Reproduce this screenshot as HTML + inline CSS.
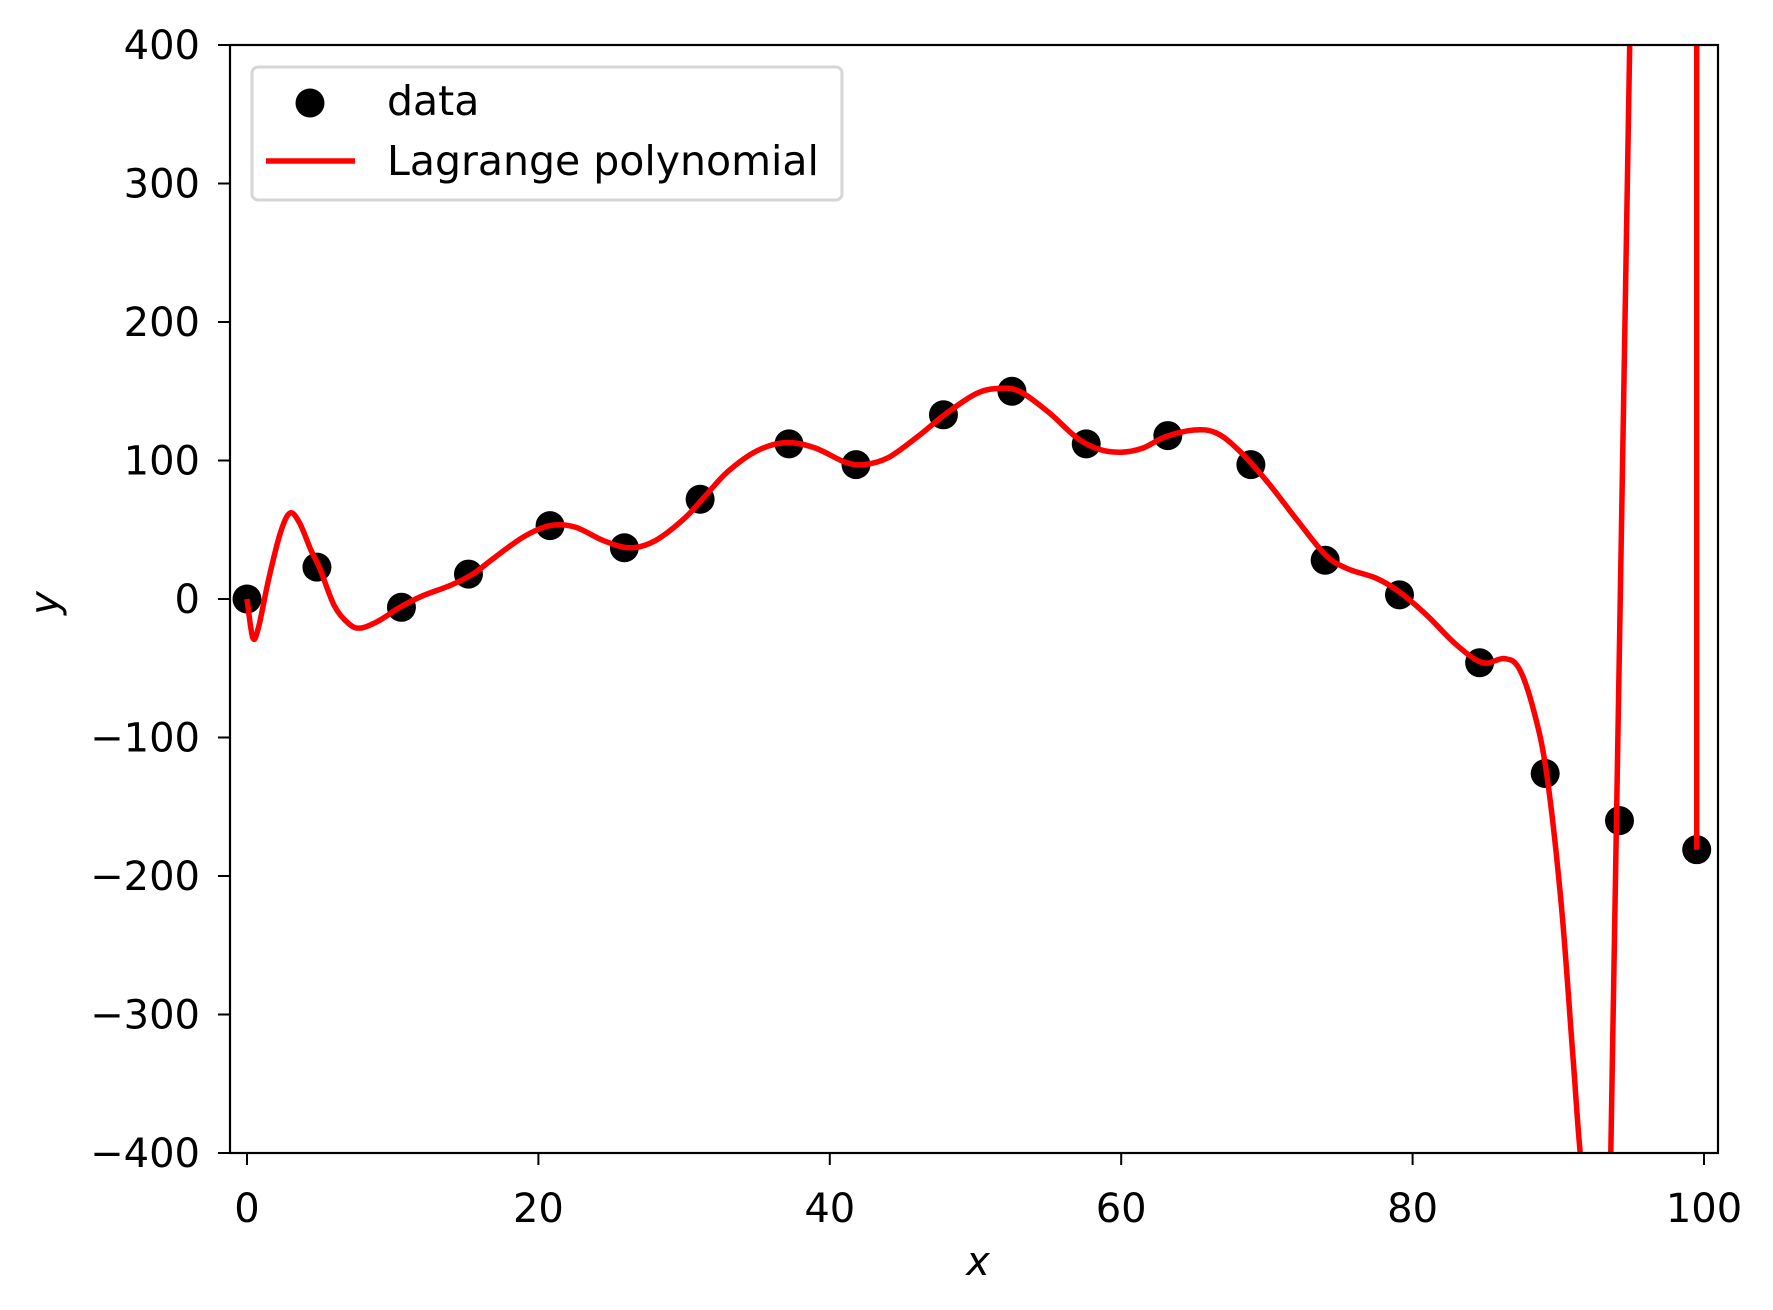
<!DOCTYPE html>
<html><head><meta charset="utf-8">
<style>
html,body{margin:0;padding:0;background:#fff;}
svg{display:block;font-family:"DejaVu Sans","Liberation Sans",sans-serif;}
</style></head>
<body>
<svg id="chart" width="1773" height="1310" viewBox="0 0 1773 1310" xmlns="http://www.w3.org/2000/svg">
<defs><clipPath id="plotclip"><rect x="230" y="45" width="1488" height="1108"/></clipPath></defs>
<rect x="0" y="0" width="1773" height="1310" fill="#fff"/>
<g id="curve-layer" clip-path="url(#plotclip)"></g>
<g id="points-layer" clip-path="url(#plotclip)"></g>
<rect x="230" y="45" width="1488" height="1108" fill="none" stroke="#000" stroke-width="2.2"/>
<g id="ticks"></g>
<text x="978" y="1275" font-size="40" font-style="italic" text-anchor="middle">x</text>
<text x="58" y="603" font-size="40" font-style="italic" text-anchor="middle" transform="rotate(-90 58 603)">y</text>
<g>
  <rect x="252" y="67" width="590" height="133" rx="6" fill="#fff" fill-opacity="0.8" stroke="#d6d6d6" stroke-width="3"/>
  <circle cx="310" cy="103" r="14.5" fill="#000"/>
  <text x="387" y="115" font-size="41">data</text>
  <line x1="266" y1="161" x2="355" y2="161" stroke="#f00" stroke-width="5.5"/>
  <text x="387" y="175" font-size="41">Lagrange polynomial</text>
</g>
</svg>
<script>
const dataX = [0,4.8,10.6,15.2,20.8,25.9,31.1,37.2,41.8,47.8,52.5,57.6,63.2,68.9,74.0,79.1,84.6,89.1,94.2,99.5];
const dataY = [0,23,-6,18,53,37,72,112,97,133,150,112,118,97,28,3,-46,-126,-160,-181];
const curveX = [0,0.4,0.8,1.5,2.3,2.95,3.6,4.4,5,6,7,7.8,9,10.5,12,14,15.5,17,19,20.8,22.5,24.5,26.3,28,30,31.5,33,35,37,39,41,42.3,44,46,48,50,51.5,53,55,57,58.5,60,61.5,63,65,66.5,68,70,72,74,75.5,77.5,79.1,81,83,84.8,86.3,87.3,88.3,89.2,90.2,91.0,91.6,92.5,93.0,93.6,94.9,95.5,99.5,99.5,99.5];
const curveY = [0,-28,-20,15,48,62,55,35,22,-5,-18,-21,-16,-6,2,10,18,30,45,53,52,42,37,42,58,75,92,107,113,109,99,97,102,117,134,148,152,150,135,116,108,106,109,117,122,120,108,85,58,32,22,15,5,-12,-33,-46,-43,-50,-80,-126,-220,-330,-410,-470,-460,-400,400,460,460,400,-181];
const xTicks = [0,20,40,60,80,100];
const yTicks = [-400,-300,-200,-100,0,100,200,300,400];
const yTickLabels = ["\u2212400","\u2212300","\u2212200","\u2212100","0","100","200","300","400"];

const NS = "http://www.w3.org/2000/svg";
const xs = v => 247 + v * 14.57;
const ys = v => 599 - v * 1.385;

const curveLayer = document.getElementById('curve-layer');
const P = curveX.map((x,i)=>[xs(x), ys(curveY[i])]);
let d = 'M' + P[0][0].toFixed(1) + ',' + P[0][1].toFixed(1);
for (let i=0;i<P.length-1;i++){
  const p0 = P[Math.max(0,i-1)], p1 = P[i], p2 = P[i+1], p3 = P[Math.min(P.length-1,i+2)];
  const t = 1/6;
  const c1 = [p1[0]+(p2[0]-p0[0])*t, p1[1]+(p2[1]-p0[1])*t];
  const c2 = [p2[0]-(p3[0]-p1[0])*t, p2[1]-(p3[1]-p1[1])*t];
  d += 'C'+c1[0].toFixed(1)+','+c1[1].toFixed(1)+' '+c2[0].toFixed(1)+','+c2[1].toFixed(1)+' '+p2[0].toFixed(1)+','+p2[1].toFixed(1);
}
const path = document.createElementNS(NS,'path');
path.setAttribute('d', d);
path.setAttribute('fill','none');
path.setAttribute('stroke','#f00');
path.setAttribute('stroke-width','5.5');
path.setAttribute('stroke-linejoin','round');



const pts = document.getElementById('points-layer');
for (let i=0;i<dataX.length;i++){
  const c = document.createElementNS(NS,'circle');
  c.setAttribute('cx', xs(dataX[i]));
  c.setAttribute('cy', ys(dataY[i]));
  c.setAttribute('r', 14.5);
  c.setAttribute('fill', '#000');
  
  
  pts.appendChild(c);
}
curveLayer.appendChild(path);
document.getElementById('chart').insertBefore(pts, curveLayer);

const ticks = document.getElementById('ticks');
xTicks.forEach(v => {
  const l = document.createElementNS(NS,'line');
  l.setAttribute('x1', xs(v)); l.setAttribute('x2', xs(v));
  l.setAttribute('y1', 1153); l.setAttribute('y2', 1165);
  l.setAttribute('stroke','#000'); l.setAttribute('stroke-width','2');
  
  
  ticks.appendChild(l);
  const t = document.createElementNS(NS,'text');
  t.setAttribute('x', xs(v)); t.setAttribute('y', 1222);
  t.setAttribute('font-size','40'); t.setAttribute('text-anchor','middle');
  t.textContent = String(v);
  
  
  ticks.appendChild(t);
});
yTicks.forEach((v,i) => {
  const l = document.createElementNS(NS,'line');
  l.setAttribute('x1', 218); l.setAttribute('x2', 230);
  l.setAttribute('y1', ys(v)); l.setAttribute('y2', ys(v));
  l.setAttribute('stroke','#000'); l.setAttribute('stroke-width','2');
  
  
  ticks.appendChild(l);
  const t = document.createElementNS(NS,'text');
  t.setAttribute('x', 200); t.setAttribute('y', ys(v) + 14);
  t.setAttribute('font-size','40'); t.setAttribute('text-anchor','end');
  t.textContent = yTickLabels[i];
  
  
  ticks.appendChild(t);
});
</script>
</body></html>
